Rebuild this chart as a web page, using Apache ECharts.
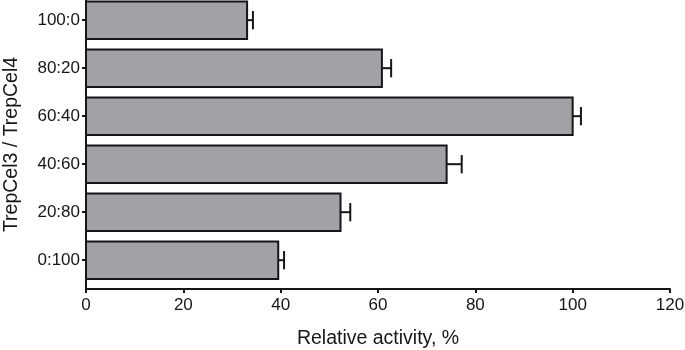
<!DOCTYPE html>
<html>
<head>
<meta charset="utf-8">
<script src="https://cdn.jsdelivr.net/npm/echarts@6/dist/echarts.min.js"></script>
<style>
  html, body { margin: 0; padding: 0; background: #fff; }
  #chart { width: 685px; height: 350px; }
</style>
</head>
<body>
<div id="chart"></div>
<script>
// ratio TrepCel3 : TrepCel4, top to bottom
const categories = ["100:0", "80:20", "60:40", "40:60", "20:80", "0:100"];
const activity = [33.1, 60.8, 100, 74.1, 52.3, 39.5];
const errors = [1.2, 1.9, 1.7, 3.1, 2.0, 1.2];

const rows = activity.map((v, i) => [v, i, errors[i]]);
const font = "'Liberation Sans', Arial, Helvetica, sans-serif";
const ink = "#161616";

const chart = echarts.init(document.getElementById("chart"));
chart.setOption({
  animation: false,
  textStyle: { fontFamily: font, color: ink },
  grid: { left: 86, right: 15, top: 0, bottom: 61, containLabel: false, outerBoundsMode: "none" },
  xAxis: {
    type: "value",
    min: 0,
    max: 120,
    interval: 20,
    name: "Relative activity, %",
    nameLocation: "middle",
    nameGap: 40,
    nameTextStyle: { fontSize: 19.5, color: ink, fontFamily: font },
    axisLine: { show: true, onZero: false, lineStyle: { color: ink, width: 2 } },
    axisTick: { show: true, length: 4, lineStyle: { color: ink, width: 2 } },
    axisLabel: { fontSize: 17, color: ink, margin: 8, fontFamily: font },
    splitLine: { show: false }
  },
  yAxis: {
    type: "value",
    inverse: true,
    min: -0.42,
    max: 5.6,
    name: "TrepCel3 / TrepCel4",
    nameLocation: "middle",
    nameGap: 64,
    nameTextStyle: { fontSize: 19.5, color: ink, fontFamily: font },
    axisLine: { show: true, onZero: false, lineStyle: { color: ink, width: 2 } },
    axisTick: {
      show: true, length: 4,
      customValues: categories.map((_, i) => i),
      lineStyle: { color: ink, width: 2 }
    },
    axisLabel: {
      fontSize: 17, color: ink, margin: 6, fontFamily: font,
      customValues: categories.map((_, i) => i),
      formatter: (v) => categories[Math.round(v)]
    },
    splitLine: { show: false }
  },
  series: [
    {
      type: "custom",
      name: "bars",
      data: rows,
      encode: { x: 0, y: 1 },
      renderItem: (params, api) => {
        const start = api.coord([0, api.value(1)]);
        const end = api.coord([api.value(0), api.value(1)]);
        const h = api.size([0, 0.78])[1];
        return {
          type: "rect",
          shape: { x: start[0], y: start[1] - h / 2, width: end[0] - start[0], height: h },
          style: { fill: "#a2a1a6", stroke: ink, lineWidth: 2 }
        };
      }
    },
    {
      type: "custom",
      name: "error",
      data: rows,
      encode: { x: 0, y: 1 },
      z: 3,
      renderItem: (params, api) => {
        const idx = api.value(1);
        const top = api.value(0) + api.value(2);
        const a = api.coord([api.value(0), idx]);
        const b = api.coord([top, idx]);
        const cap = api.size([0, 0.38])[1];
        const style = { stroke: ink, lineWidth: 2 };
        return {
          type: "group",
          children: [
            { type: "line", shape: { x1: a[0], y1: a[1], x2: b[0], y2: b[1] }, style },
            { type: "line", shape: { x1: b[0], y1: b[1] - cap / 2, x2: b[0], y2: b[1] + cap / 2 }, style }
          ]
        };
      }
    }
  ]
});
</script>
</body>
</html>
